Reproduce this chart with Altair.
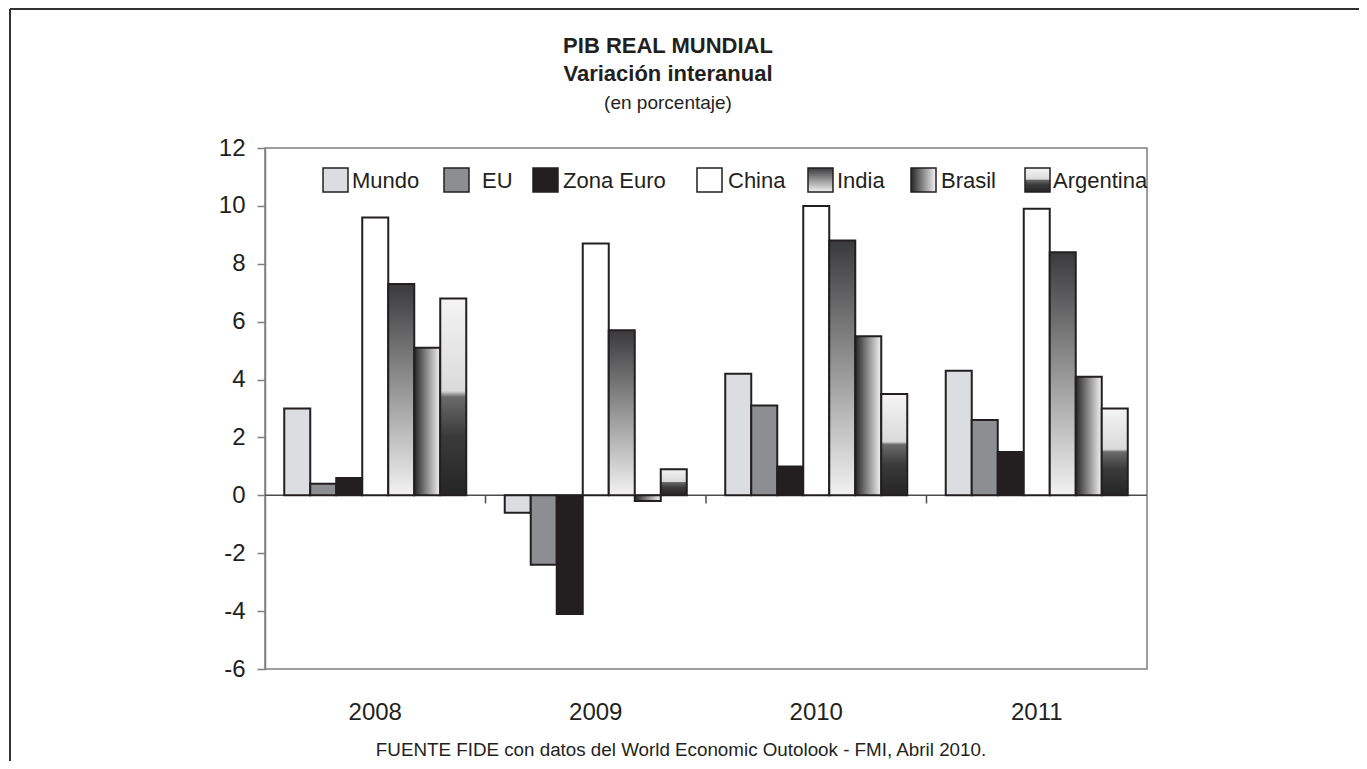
import altair as alt
import pandas as pd

# ---------------- data ----------------
years = ["2008", "2009", "2010", "2011"]
series = ["Mundo", "EU", "Zona Euro", "China", "India", "Brasil", "Argentina"]
mundo = [3.0, -0.6, 4.2, 4.3]
eu = [0.4, -2.4, 3.1, 2.6]
zona_euro = [0.6, -4.1, 1.0, 1.5]
china = [9.6, 8.7, 10.0, 9.9]
india = [7.3, 5.7, 8.8, 8.4]
brasil = [5.1, -0.2, 5.5, 4.1]
argentina = [6.8, 0.9, 3.5, 3.0]
y_ticks = [-6, -4, -2, 0, 2, 4, 6, 8, 10, 12]

values = {
    "Mundo": mundo, "EU": eu, "Zona Euro": zona_euro, "China": china,
    "India": india, "Brasil": brasil, "Argentina": argentina,
}
rows = [{"year": y, "series": s, "value": v}
        for s in series for y, v in zip(years, values[s])]
df = pd.DataFrame(rows)

# ---------------- styles ----------------
W, H = 882, 521
FONT = "Liberation Sans"
INK = "#231f20"


def lin(stops, x1=0, y1=0, x2=0, y2=1):
    return alt.Gradient(
        gradient="linear", x1=x1, y1=y1, x2=x2, y2=y2,
        stops=[alt.GradientStop(color=c, offset=o) for o, c in stops],
    )


fills = {
    "Mundo": "#dcdde0",
    "EU": "#8d8e91",
    "Zona Euro": INK,
    "China": "#ffffff",
    "India": lin([(0, "#3a3a3c"), (1, "#f2f2f2")]),
    "Brasil": lin([(0, "#262626"), (1, "#f4f4f4")], x1=0, y1=0, x2=1, y2=0),
    "Argentina": lin([(0, "#f4f4f4"), (0.47, "#dadada"), (0.5, "#6a6a6a"),
                      (0.7, "#3a3a3a"), (1, "#252525")]),
}

legend_swatch_x = [58, 179, 268, 432, 543, 646, 760]
legend_text_x = [87, 217, 298, 463, 572, 676, 788]

y_scale = alt.Scale(domain=[-6, 12], nice=False, zero=False)
x_scale = alt.Scale(paddingInner=0, paddingOuter=0)
x_axis = alt.Axis(labelFontSize=24, labelFont=FONT, labelColor=INK, ticks=False,
                  domain=False, labelPadding=31, labelAngle=0, bandPosition=0.5,
                  title=None)
y_axis = alt.Axis(values=y_ticks, labelFontSize=24, labelFont=FONT, labelColor=INK,
                  labelExpr="'' + datum.value",
                  tickSize=8, tickColor="#7f7f7f", domainColor="#7f7f7f",
                  domainWidth=1.5, tickWidth=1.5, labelPadding=12, grid=False,
                  title=None)

x_enc = alt.X("year:N", sort=years, scale=x_scale, axis=x_axis)
y_enc = alt.Y("value:Q", scale=y_scale, axis=y_axis)
xoff_enc = alt.XOffset(
    "series:N", sort=series,
    scale=alt.Scale(domain=series, paddingInner=0, paddingOuter=0.74),
)

layers = []

# zero line
layers.append(
    alt.Chart(pd.DataFrame({"value": [0]})).mark_rule(color="#4d4d4d", strokeWidth=1.5)
    .encode(y=y_enc)
)

# bars
for s in series:
    layers.append(
        alt.Chart(df).transform_filter(alt.datum.series == s)
        .mark_bar(fill=fills[s], stroke=INK, strokeWidth=2)
        .encode(x=x_enc, xOffset=xoff_enc, y=y_enc)
    )

# category boundary ticks on the zero line
layers.append(
    alt.Chart(pd.DataFrame({"year": years[1:], "value": [0] * 3, "b": [-0.28] * 3}))
    .mark_rule(color="#4d4d4d", strokeWidth=1.5)
    .encode(x=alt.X("year:N", sort=years, scale=x_scale, axis=x_axis, bandPosition=0),
            y=y_enc, y2="b:Q")
)

# legend
for s, sx, tx in zip(series, legend_swatch_x, legend_text_x):
    one = pd.DataFrame({"label": [s]})
    layers.append(
        alt.Chart(one).mark_rect(fill=fills[s], stroke=INK, strokeWidth=1.5)
        .encode(x=alt.value(sx), x2=alt.value(sx + 25), y=alt.value(20), y2=alt.value(44))
    )
    layers.append(
        alt.Chart(one).mark_text(align="left", baseline="middle", font=FONT,
                                 fontSize=22, color=INK)
        .encode(x=alt.value(tx), y=alt.value(33), text="label:N")
    )


def txt(t, x, y, size, bold=False):
    return (
        alt.Chart(pd.DataFrame({"t": [t]}))
        .mark_text(align="center", baseline="middle", font=FONT, fontSize=size,
                   fontWeight="bold" if bold else "normal", color=INK)
        .encode(x=alt.value(x), y=alt.value(y), text="t:N")
    )


layers.append(txt("PIB REAL MUNDIAL", 403, -102, 22, True))
layers.append(txt("Variación interanual", 403, -74, 22, True))
layers.append(txt("(en porcentaje)", 403, -45, 19))
layers.append(txt("FUENTE FIDE con datos del World Economic Outolook - FMI, Abril 2010.",
                  416, 602, 18.8))

# outer frame (top and left edges)
frame = pd.DataFrame({"k": [0]})
layers.append(
    alt.Chart(frame).mark_rule(color="#333333", strokeWidth=2)
    .encode(x=alt.value(-255), y=alt.value(-139), y2=alt.value(H + 92))
)
layers.append(
    alt.Chart(frame).mark_rule(color="#333333", strokeWidth=2)
    .encode(x=alt.value(-255), x2=alt.value(W + 212), y=alt.value(-139))
)

chart = (
    alt.layer(*layers)
    .properties(
        width=W, height=H,
        autosize=alt.AutoSizeParams(type="none"),
        padding={"left": 257, "top": 140, "right": 212, "bottom": 92},
        background="white",
    )
    .configure_view(stroke="#7f7f7f", strokeWidth=1.5)
)

chart.save("out.html", embed_options={"renderer": "svg", "actions": False})
